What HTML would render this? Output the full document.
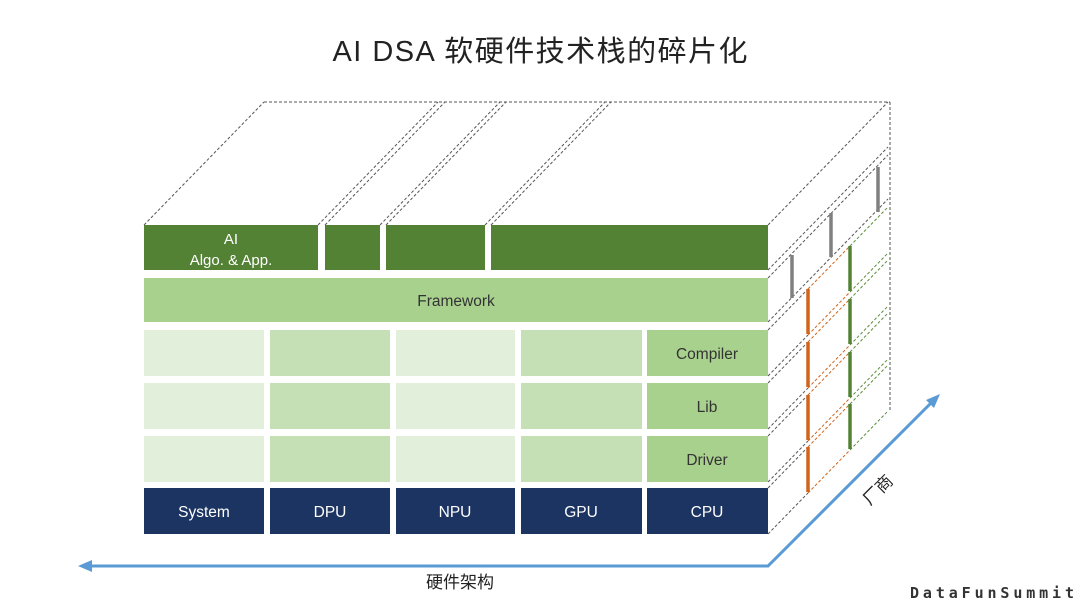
<!DOCTYPE html>
<html><head><meta charset="utf-8"><style>
html,body{margin:0;padding:0;background:#fff;}
svg{display:block;}
</style></head><body>
<svg width="1080" height="604" viewBox="0 0 1080 604" xmlns="http://www.w3.org/2000/svg" font-family="Liberation Sans, Noto Sans CJK SC, sans-serif">
<text x="540" y="61" font-size="29" text-anchor="middle" fill="#222" textLength="415" font-family="Liberation Sans, Noto Sans CJK SC, sans-serif">AI DSA 软硬件技术栈的碎片化</text>

<g stroke="#555" stroke-width="1" stroke-dasharray="3,2" fill="none">
<line x1="264" y1="102" x2="890" y2="102"/>
<line x1="890" y1="102" x2="890" y2="412"/>
<line x1="144" y1="225" x2="264" y2="102"/>
<line x1="318" y1="225" x2="438" y2="102"/>
<line x1="325" y1="225" x2="445" y2="102"/>
<line x1="380" y1="225" x2="500" y2="102"/>
<line x1="386" y1="225" x2="506" y2="102"/>
<line x1="485" y1="225" x2="605" y2="102"/>
<line x1="491" y1="225" x2="611" y2="102"/>
<line x1="768" y1="225" x2="888" y2="102"/>
<line x1="768" y1="270" x2="888" y2="147"/>
<line x1="768" y1="278" x2="888" y2="155"/>
<line x1="768" y1="322" x2="888" y2="199"/>
</g>
<g stroke-width="1" stroke-dasharray="3,2" fill="none">
<g stroke="#555">
<line x1="768" y1="330" x2="808" y2="289"/><line x1="768" y1="376" x2="808" y2="335"/>
<line x1="768" y1="383" x2="808" y2="342"/><line x1="768" y1="429" x2="808" y2="388"/>
<line x1="768" y1="436" x2="808" y2="395"/><line x1="768" y1="482" x2="808" y2="441"/>
<line x1="768" y1="488" x2="808" y2="447"/><line x1="768" y1="534" x2="808" y2="493"/>
</g>
<g stroke="#d0641c">
<line x1="808" y1="289" x2="850" y2="246"/><line x1="808" y1="335" x2="850" y2="292"/>
<line x1="808" y1="342" x2="850" y2="299"/><line x1="808" y1="388" x2="850" y2="345"/>
<line x1="808" y1="395" x2="850" y2="352"/><line x1="808" y1="441" x2="850" y2="398"/>
<line x1="808" y1="447" x2="850" y2="404"/><line x1="808" y1="493" x2="850" y2="450"/>
</g>
<g stroke="#5a8f3a">
<line x1="850" y1="246" x2="888" y2="207"/><line x1="850" y1="292" x2="888" y2="253"/>
<line x1="850" y1="299" x2="888" y2="260"/><line x1="850" y1="345" x2="888" y2="306"/>
<line x1="850" y1="352" x2="888" y2="313"/><line x1="850" y1="398" x2="888" y2="359"/>
<line x1="850" y1="404" x2="888" y2="365"/><line x1="850" y1="450" x2="888" y2="411"/>
</g>
</g>
<g stroke-width="3.5">
<line x1="792" y1="255" x2="792" y2="298" stroke="#808080"/>
<line x1="831" y1="213" x2="831" y2="257" stroke="#808080"/>
<line x1="878" y1="167" x2="878" y2="212" stroke="#808080"/>
<g stroke="#d0641c">
<line x1="808" y1="289" x2="808" y2="334"/><line x1="808" y1="342" x2="808" y2="387"/>
<line x1="808" y1="395" x2="808" y2="440"/><line x1="808" y1="447" x2="808" y2="492"/>
</g>
<g stroke="#548235">
<line x1="850" y1="246" x2="850" y2="291"/><line x1="850" y1="299" x2="850" y2="344"/>
<line x1="850" y1="352" x2="850" y2="397"/><line x1="850" y1="404" x2="850" y2="449"/>
</g>
</g>

<g fill="#548235">
<rect x="144" y="225" width="174" height="45"/>
<rect x="325" y="225" width="55" height="45"/>
<rect x="386" y="225" width="99" height="45"/>
<rect x="491" y="225" width="277" height="45"/>
</g>
<text x="231" y="244" font-size="15" fill="#fff" text-anchor="middle">AI</text>
<text x="231" y="265" font-size="15" fill="#fff" text-anchor="middle">Algo. &amp; App.</text>
<rect x="144" y="278" width="624" height="44" fill="#a9d18e"/>
<text x="456" y="306" font-size="15.5" fill="#333" text-anchor="middle">Framework</text>

<g>
<rect x="144" y="330" width="120" height="46" fill="#e2efda"/><rect x="270" y="330" width="120" height="46" fill="#c5e0b4"/><rect x="396" y="330" width="119" height="46" fill="#e2efda"/><rect x="521" y="330" width="121" height="46" fill="#c5e0b4"/><rect x="647" y="330" width="121" height="46" fill="#a9d18e"/>
<rect x="144" y="383" width="120" height="46" fill="#e2efda"/><rect x="270" y="383" width="120" height="46" fill="#c5e0b4"/><rect x="396" y="383" width="119" height="46" fill="#e2efda"/><rect x="521" y="383" width="121" height="46" fill="#c5e0b4"/><rect x="647" y="383" width="121" height="46" fill="#a9d18e"/>
<rect x="144" y="436" width="120" height="46" fill="#e2efda"/><rect x="270" y="436" width="120" height="46" fill="#c5e0b4"/><rect x="396" y="436" width="119" height="46" fill="#e2efda"/><rect x="521" y="436" width="121" height="46" fill="#c5e0b4"/><rect x="647" y="436" width="121" height="46" fill="#a9d18e"/>
</g>
<g font-size="15.5" fill="#333" text-anchor="middle">
<text x="707" y="359">Compiler</text><text x="707" y="412">Lib</text><text x="707" y="465">Driver</text>
</g>
<g fill="#1c3461">
<rect x="144" y="488" width="120" height="46"/><rect x="270" y="488" width="120" height="46"/><rect x="396" y="488" width="119" height="46"/><rect x="521" y="488" width="121" height="46"/><rect x="647" y="488" width="121" height="46"/>
</g>
<g font-size="15.5" fill="#fff" text-anchor="middle">
<text x="204" y="517">System</text><text x="330" y="517">DPU</text><text x="455" y="517">NPU</text><text x="581" y="517">GPU</text><text x="707" y="517">CPU</text>
</g>
<g stroke="#5b9bd5" stroke-width="3" fill="none">
<polyline points="90,566 768,566 932,402"/>
</g>
<polygon points="78,566 92,560 92,572" fill="#5b9bd5"/>
<polygon points="940,394 926,400 934,408" fill="#5b9bd5"/>
<text x="460" y="588" font-size="17" fill="#222" text-anchor="middle" font-family="Liberation Sans, Noto Sans CJK SC, sans-serif">硬件架构</text>
<text x="0" y="0" font-size="17" fill="#222" text-anchor="middle" transform="translate(882,494) rotate(-45)" font-family="Liberation Sans, Noto Sans CJK SC, sans-serif">厂商</text>
<text x="910" y="598" font-size="15" font-weight="bold" fill="#333" textLength="164" lengthAdjust="spacing" font-family="DejaVu Sans Mono, monospace">DataFunSummit</text>
</svg>
</body></html>
